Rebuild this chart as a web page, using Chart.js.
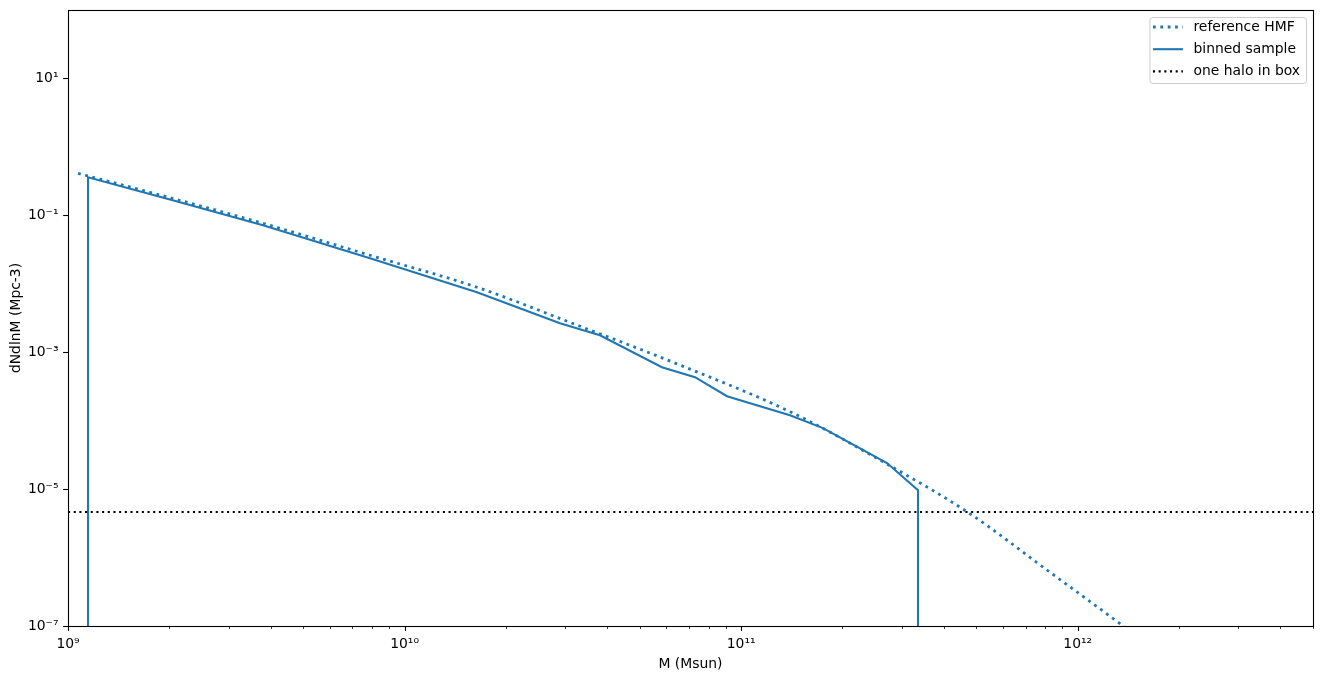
<!DOCTYPE html>
<html>
<head>
<meta charset="utf-8">
<script src="https://cdn.jsdelivr.net/npm/chart.js@4.4.0/dist/chart.umd.min.js"></script>
<style>
    body { margin: 0; background: #fff; }
    #contenedor { width: 1322px; height: 683px; }
</style>
</head>
<body>
<div id="contenedor"><canvas id="graficoHMF" width="1322" height="683"></canvas></div>
<script>
// reference HMF
const refMasa = [1.071e9, 1.752e9, 3.796e9, 7.89e9, 1.641e10, 3.208e10, 6.272e10, 1.425e11, 2.712e11, 4.752e11, 8.27e11, 1.317e12, 2.012e12];
const refDn = [0.41, 0.217, 0.0764, 0.0261, 0.00889, 2.56e-3, 7.14e-4, 1.29e-4, 2.32e-5, 4.47e-6, 6.1e-7, 1.14e-7, 2.4e-8];

// binned sample (zero outside the sampled range, drawn off the bottom)
const binMasa = [1.147e9, 1.147e9, 2.009e9, 3.796e9, 7.89e9, 1.641e10, 2.895e10, 3.806e10, 5.816e10, 7.291e10, 9.076e10, 1.396e11, 1.75e11, 2.712e11, 3.353e11, 3.353e11];
const binDn = [1e-12, 0.359, 0.171, 0.0714, 0.0236, 7.52e-3, 2.65e-3, 1.77e-3, 6.04e-4, 4.32e-4, 2.28e-4, 1.20e-4, 7.78e-5, 2.40e-5, 9.66e-6, 1e-12];

// one halo in box
const unHalo = 4.63e-6;

const xMin = 1e9, xMax = 5e12;
const yMin = 1e-7, yMax = 1e2;
const xMayores = [1e9, 1e10, 1e11, 1e12];
const yMayores = [1e-7, 1e-5, 1e-3, 1e-1, 1e1];

const azul = '#1f77b4';
const fuente = { family: 'DejaVu Sans', size: 13.9 };

function xMenores() {
    const lista = [];
    for (let d = 9; d <= 12; d++) {
        for (let k = 2; k <= 9; k++) {
            const v = k * Math.pow(10, d);
            if (v <= xMax) lista.push(v);
        }
    }
    return lista;
}

const sup = { '0': '⁰', '1': '¹', '2': '²', '3': '³', '4': '⁴', '5': '⁵', '6': '⁶', '7': '⁷', '8': '⁸', '9': '⁹', '-': '⁻' };
function etiqueta(v) {
    const e = Math.round(Math.log10(v));
    return '10' + String(e).split('').map(c => sup[c]).join('');
}
function esMayor(lista, v) {
    return lista.some(m => Math.abs(m - v) / m < 1e-9);
}

function puntos(xs, ys) {
    return xs.map((x, i) => ({ x: x, y: ys[i] }));
}

const marco = {
    id: 'marco',
    afterDatasetsDraw(chart) {
        const { ctx, chartArea: a, scales } = chart;
        ctx.save();
        ctx.strokeStyle = '#000';

        // tick marks
        scales.x.ticks.forEach(t => {
            const px = Math.round(scales.x.getPixelForValue(t.value)) + 0.5;
            const mayor = esMayor(xMayores, t.value);
            ctx.lineWidth = mayor ? 1.1 : 0.85;
            ctx.beginPath();
            ctx.moveTo(px, a.bottom);
            ctx.lineTo(px, a.bottom + (mayor ? 4.9 : 2.8));
            ctx.stroke();
        });
        scales.y.ticks.forEach(t => {
            const py = Math.round(scales.y.getPixelForValue(t.value)) + 0.5;
            ctx.lineWidth = 1.1;
            ctx.beginPath();
            ctx.moveTo(a.left, py);
            ctx.lineTo(a.left - 4.9, py);
            ctx.stroke();
        });

        // frame
        ctx.lineWidth = 1.1;
        ctx.strokeRect(Math.round(a.left) + 0.5, Math.round(a.top) + 0.5, Math.round(a.right - a.left), Math.round(a.bottom - a.top));

        // legend
        ctx.font = fuente.size + 'px "' + fuente.family + '"';
        const sets = chart.data.datasets;
        const anchoTexto = Math.max(...sets.map(d => ctx.measureText(d.label).width));
        const ancho = 44 + anchoTexto + 6;
        const derecha = a.right - 7;
        const izq = derecha - ancho;
        const arriba = a.top + 7;
        const alto = 66;
        ctx.beginPath();
        ctx.roundRect(izq + 0.5, arriba + 0.5, ancho, alto, 3);
        ctx.fillStyle = 'rgba(255,255,255,0.8)';
        ctx.fill();
        ctx.strokeStyle = '#cccccc';
        ctx.lineWidth = 1;
        ctx.stroke();

        sets.forEach((d, i) => {
            const cy = arriba + 10 + i * 22.2;
            ctx.beginPath();
            ctx.strokeStyle = d.borderColor;
            ctx.lineWidth = d.borderWidth;
            ctx.lineCap = 'butt';
            ctx.setLineDash(d.borderDash || []);
            ctx.moveTo(izq + 3.5, cy);
            ctx.lineTo(izq + 33.5, cy);
            ctx.stroke();
            ctx.setLineDash([]);
            ctx.fillStyle = '#000';
            ctx.textBaseline = 'middle';
            ctx.textAlign = 'left';
            ctx.fillText(d.label, izq + 44, cy);
        });
        ctx.restore();
    }
};

const ctx = document.getElementById('graficoHMF').getContext('2d');
new Chart(ctx, {
    type: 'scatter',
    data: {
        datasets: [{
            label: 'reference HMF',
            data: puntos(refMasa, refDn),
            showLine: true,
            borderColor: azul,
            borderWidth: 2.78,
            borderDash: [2.78, 4.59],
            pointRadius: 0,
            cubicInterpolationMode: 'monotone',
            clip: 0,
            order: 3
        }, {
            label: 'binned sample',
            data: puntos(binMasa, binDn),
            showLine: true,
            borderColor: azul,
            borderWidth: 2.08,
            pointRadius: 0,
            clip: 0,
            order: 2
        }, {
            label: 'one halo in box',
            data: puntos([xMin, xMax], [unHalo, unHalo]),
            showLine: true,
            borderColor: '#000000',
            borderWidth: 2.08,
            borderDash: [2.08, 3.6],
            pointRadius: 0,
            clip: 0,
            order: 1
        }]
    },
    options: {
        responsive: false,
        animation: false,
        devicePixelRatio: 1,
        events: [],
        layout: { padding: { top: 10, right: 9, left: 0, bottom: 0 } },
        plugins: {
            legend: { display: false },
            tooltip: { enabled: false }
        },
        scales: {
            x: {
                type: 'logarithmic',
                position: 'bottom',
                min: xMin,
                max: xMax,
                grid: { display: false, drawTicks: false },
                border: { display: false },
                afterBuildTicks: (scale) => {
                    scale.ticks = xMayores.concat(xMenores()).sort((a, b) => a - b).map(v => ({ value: v }));
                },
                afterFit: (scale) => {
                    scale.height = 57;
                    scale.paddingLeft = 0;
                    scale.paddingRight = 0;
                },
                ticks: {
                    autoSkip: false,
                    maxRotation: 0,
                    padding: 10,
                    color: '#000',
                    font: fuente,
                    callback: (v) => esMayor(xMayores, v) ? etiqueta(v) : ''
                },
                title: {
                    display: true,
                    text: 'M (Msun)',
                    color: '#000',
                    font: fuente,
                    padding: { top: 0, bottom: 10 }
                }
            },
            y: {
                type: 'logarithmic',
                position: 'left',
                min: yMin,
                max: yMax,
                grid: { display: false, drawTicks: false },
                border: { display: false },
                afterBuildTicks: (scale) => {
                    scale.ticks = yMayores.map(v => ({ value: v }));
                },
                afterFit: (scale) => {
                    scale.width = 68;
                    scale.paddingTop = 0;
                    scale.paddingBottom = 0;
                },
                ticks: {
                    autoSkip: false,
                    padding: 9.5,
                    color: '#000',
                    font: fuente,
                    callback: (v) => etiqueta(v)
                },
                title: {
                    display: true,
                    text: 'dNdlnM (Mpc-3)',
                    color: '#000',
                    font: fuente,
                    padding: { top: 8, bottom: 0 }
                }
            }
        }
    },
    plugins: [marco]
});
</script>
</body>
</html>
